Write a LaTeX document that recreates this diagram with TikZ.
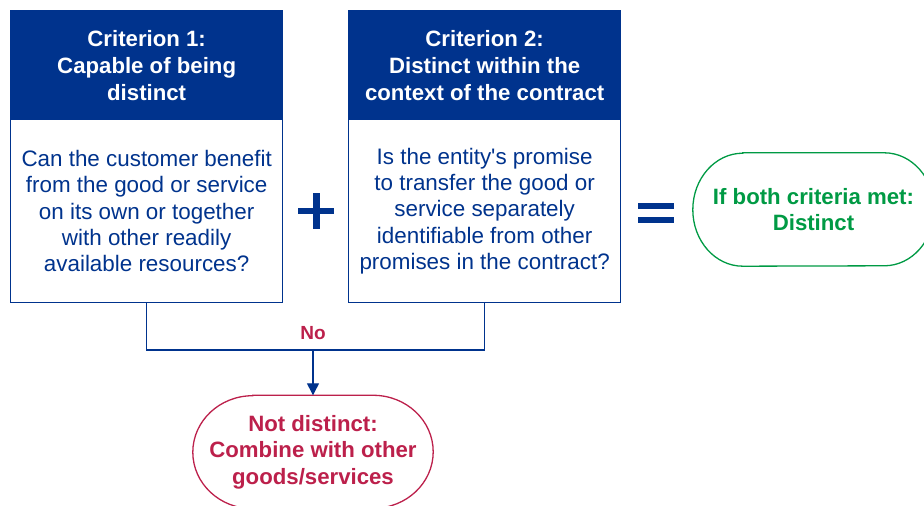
\documentclass[tikz,border=0pt]{standalone}
\usepackage{fontspec}
\setmainfont{Liberation Sans}
\usetikzlibrary{arrows.meta,calc}
\definecolor{kblue}{HTML}{00338D}
\definecolor{kgreen}{HTML}{009A44}
\definecolor{kred}{HTML}{BC204B}
\newcommand\stadiumoutline[3]{%
  \draw[#2, line width=1.3pt] ($(#1.north west)+(#3,0)$) -- ($(#1.north east)+(-#3,0)$)
    arc[start angle=90,end angle=-90,x radius=#3,y radius=56.5]
    -- ($(#1.south west)+(#3,0)$)
    arc[start angle=270,end angle=90,x radius=#3,y radius=56.5] -- cycle;}
\begin{document}
\begin{tikzpicture}[x=1pt,y=1pt,
  headbox/.style={fill=kblue, draw=kblue, line width=1.3pt, text=white,
    font=\fontsize{22.2}{27}\selectfont\bfseries, align=center,
    minimum width=272pt, minimum height=109pt, inner sep=0pt, anchor=north west},
  bodybox/.style={fill=white, draw=kblue, line width=1.3pt, text=kblue,
    font=\fontsize{22.4}{26.3}\selectfont, align=center,
    minimum width=272pt, minimum height=183pt, inner sep=0pt, anchor=north west},
  resultbox/.style={inner sep=0pt, minimum height=113pt, align=center,
    font=\fontsize{22.2}{26.5}\selectfont\bfseries},
  link/.style={draw=kblue, line width=1.3pt},
  symbar/.style={fill=kblue}
]
\useasboundingbox (0,0) rectangle (924,506);

% criterion boxes
\node[headbox] (h1) at (10,496) {Criterion 1:\\Capable of being\\distinct};
\node[bodybox] (b1) at (10,387) {Can the customer benefit\\from the good or service\\on its own or together\\with other readily\\available resources?};
\node[headbox] (h2) at (348,496) {Criterion 2:\\Distinct within the\\context of the contract};
\node[bodybox] (b2) at (348,387) {Is the entity\textquotesingle s promise\\to transfer the good or\\service separately\\identifiable from other\\promises in the contract?};

% plus sign
\fill[symbar] (298,291.7) rectangle (334,298.3);
\fill[symbar] (313.4,277.3) rectangle (320,313.3);
% equals sign
\fill[symbar] (638,297) rectangle (674,302.7);
\fill[symbar] (638,283.3) rectangle (674,288.7);

% result: distinct
\node[resultbox, text=kgreen, minimum width=241pt] (ok) at (813.5,296.5) {If both criteria met:\\Distinct};
\stadiumoutline{ok}{kgreen}{50}

% result: not distinct
\node[resultbox, text=kred, minimum width=240pt] (nd) at (313,54) {Not distinct:\\Combine with other\\goods/services};
\stadiumoutline{nd}{kred}{60}

% connectors
\coordinate (j) at (313,156);
\draw[link] (b1.south) |- (j) -| (b2.south);
\draw[link, -{Triangle[length=12pt,width=12pt]}] (j) -- (nd.north);
\node[text=kred, font=\fontsize{19}{22}\selectfont\bfseries] (no) at (313,173) {No};
\end{tikzpicture}
\end{document}
